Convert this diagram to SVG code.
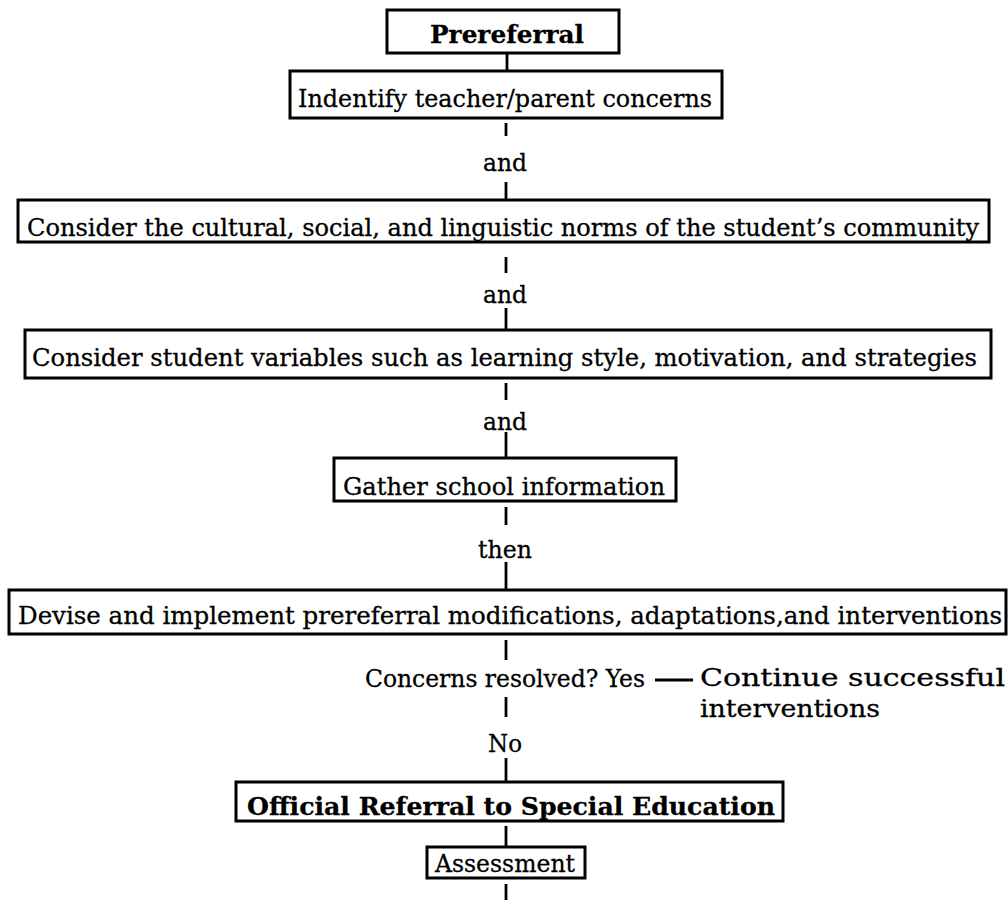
<svg xmlns="http://www.w3.org/2000/svg" width="1008" height="900" viewBox="0 0 1008 900">
<style>
.box{fill:#fff;stroke:#000;stroke-width:3}
.t{font-family:"DejaVu Serif","Liberation Serif",serif;font-size:25px;fill:#000;stroke:#000;stroke-width:0.3}
.s{font-size:24px}
.b{font-weight:bold;font-size:25px}
.m{text-anchor:middle}
.c{stroke:#000;stroke-width:2.8;fill:none}
</style>
<rect width="1008" height="900" fill="#fff"/>
<g id="connectors">
<line class="c" x1="507" y1="53" x2="507" y2="71"/>
<line class="c" x1="506" y1="123" x2="506" y2="136"/>
<line class="c" x1="506" y1="182" x2="506" y2="200"/>
<line class="c" x1="506" y1="257" x2="506" y2="273"/>
<line class="c" x1="506" y1="308" x2="506" y2="330"/>
<line class="c" x1="506" y1="383" x2="506" y2="400"/>
<line class="c" x1="506" y1="432" x2="506" y2="458"/>
<line class="c" x1="506" y1="507" x2="506" y2="525"/>
<line class="c" x1="506" y1="562" x2="506" y2="590"/>
<line class="c" x1="506" y1="640" x2="506" y2="660"/>
<line class="c" x1="655" y1="680" x2="693" y2="680" stroke-width="2"/>
<line class="c" x1="506" y1="697" x2="506" y2="717"/>
<line class="c" x1="506" y1="758" x2="506" y2="782"/>
<line class="c" x1="506" y1="826" x2="506" y2="847"/>
<line class="c" x1="506" y1="884" x2="506" y2="900"/>
</g>
<g id="prereferral">
<rect class="box" x="387" y="10" width="232" height="43"/>
<text class="t b m" x="507" y="43" textLength="154" lengthAdjust="spacingAndGlyphs">Prereferral</text>
</g>
<g id="identify">
<rect class="box" x="290" y="71" width="432" height="47"/>
<text class="t m" x="505" y="107" textLength="414" lengthAdjust="spacingAndGlyphs">Indentify teacher/parent concerns</text>
</g>
<g id="and1"><text class="t m" x="505" y="171" textLength="44" lengthAdjust="spacingAndGlyphs">and</text></g>
<g id="cultural">
<rect class="box" x="18" y="200" width="971" height="42"/>
<text class="t s m" x="503" y="236" textLength="952" lengthAdjust="spacingAndGlyphs">Consider the cultural, social, and linguistic norms of the student’s community</text>
</g>
<g id="and2"><text class="t m" x="505" y="303" textLength="44" lengthAdjust="spacingAndGlyphs">and</text></g>
<g id="student">
<rect class="box" x="25" y="330" width="966" height="48"/>
<text class="t m" x="504.5" y="366" textLength="945" lengthAdjust="spacingAndGlyphs">Consider student variables such as learning style, motivation, and strategies</text>
</g>
<g id="and3"><text class="t m" x="505" y="430" textLength="44" lengthAdjust="spacingAndGlyphs">and</text></g>
<g id="gather">
<rect class="box" x="334" y="458" width="342" height="43"/>
<text class="t m" x="504" y="495" textLength="322" lengthAdjust="spacingAndGlyphs">Gather school information</text>
</g>
<g id="then"><text class="t m" x="505" y="558" textLength="54" lengthAdjust="spacingAndGlyphs">then</text></g>
<g id="devise">
<rect class="box" x="9" y="590" width="997" height="44"/>
<text class="t s m" x="510" y="624" textLength="984" lengthAdjust="spacingAndGlyphs">Devise and implement prereferral modifications, adaptations,and interventions</text>
</g>
<g id="concerns"><text class="t" x="365" y="687" textLength="280" lengthAdjust="spacingAndGlyphs">Concerns resolved? Yes</text></g>
<g id="continue">
<text class="t" x="700" y="686" textLength="305" lengthAdjust="spacingAndGlyphs">Continue successful</text>
<text class="t" x="700" y="717" textLength="180" lengthAdjust="spacingAndGlyphs">interventions</text>
</g>
<g id="no"><text class="t m" x="505" y="752" textLength="34" lengthAdjust="spacingAndGlyphs">No</text></g>
<g id="official">
<rect class="box" x="236" y="782" width="547" height="39"/>
<text class="t b m" x="511" y="815" textLength="528" lengthAdjust="spacingAndGlyphs">Official Referral to Special Education</text>
</g>
<g id="assessment">
<rect class="box" x="427" y="847" width="158" height="31"/>
<text class="t m" x="505" y="872" textLength="140" lengthAdjust="spacingAndGlyphs">Assessment</text>
</g>
</svg>
